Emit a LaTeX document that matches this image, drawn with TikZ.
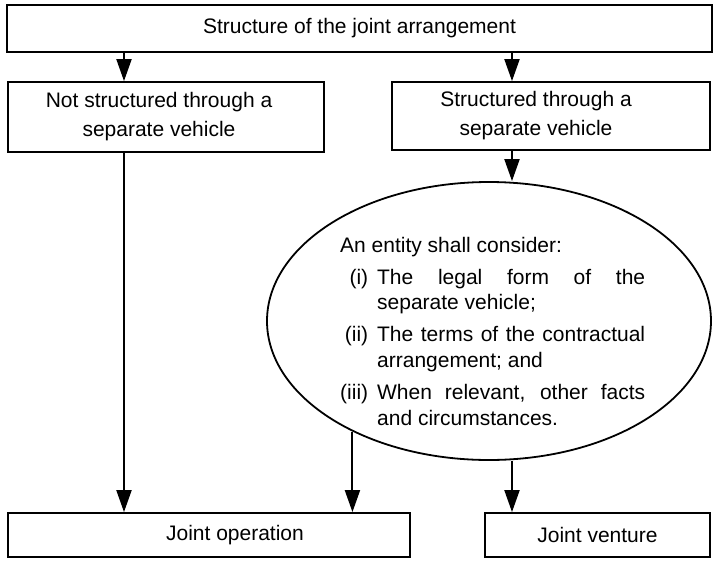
\documentclass[tikz,border=0pt]{standalone}
\usepackage{fontspec}
\setmainfont{Liberation Sans}
\usetikzlibrary{arrows.meta,shapes.geometric}
\begin{document}
\begin{tikzpicture}[x=1pt,y=-1pt,
  box/.style={draw, line width=1.8pt, inner sep=0pt},
  txt/.style={inner sep=0pt, font=\fontsize{21}{29}\selectfont, align=center},
  arr/.style={line width=2pt, -{Triangle[width=15pt,length=22pt]}},
]
\useasboundingbox (0,0) rectangle (716,563);
% boxes
\node[box, txt, minimum width=705pt, minimum height=47pt] (top) at (359.5,28.5) {Structure of the joint arrangement};
\node[box, minimum width=316pt, minimum height=70pt] (left) at (166,117) {};
\node[txt] (lefttxt) at (159,117) {Not structured through a\\separate vehicle};
\node[box, minimum width=318pt, minimum height=68pt] (right) at (551,116) {};
\node[txt] (righttxt) at (536,116) {Structured through a\\separate vehicle};
\node[box, minimum width=402pt, minimum height=44pt] (jo) at (209,535) {};
\node[txt] (jotxt) at (235,535) {Joint operation};
\node[box, txt, minimum width=225pt, minimum height=44pt] (jv) at (597.5,535) {Joint venture};
% ellipse
\node[ellipse, draw, line width=1.8pt, inner sep=0pt, minimum width=444pt, minimum height=278pt] (ell) at (489,321) {};
\node[inner sep=0pt, anchor=base west, font=\fontsize{21}{25.5}\selectfont] (elltxt) at (340,252) {%
\hyphenpenalty=10000
\begin{tabular}[t]{@{}r@{\hspace{9pt}}p{268pt}@{}}
\multicolumn{2}{@{}l@{}}{An entity shall consider:}\\[6.5pt]
(i) & The legal form of the\linebreak separate vehicle;\\[6.5pt]
(ii) & The terms of the contractual\linebreak arrangement; and\\[7pt]
(iii) & When relevant, other facts\linebreak and circumstances.
\end{tabular}};
% arrows
\coordinate (xl) at (124,0);
\coordinate (xr) at (512,0);
\draw[arr] (top.south -| xl) -- (left.north -| xl);
\draw[arr] (top.south -| xr) -- (right.north -| xr);
\draw[arr] (right.south -| xr) -- (ell.north -| xr);
\draw[arr] (left.south -| xl) -- (jo.north -| xl);
\draw[arr] (ell.219) -- (jo.north -| ell.219);
\draw[arr] (ell.south -| xr) -- (jv.north -| xr);
\end{tikzpicture}
\end{document}
